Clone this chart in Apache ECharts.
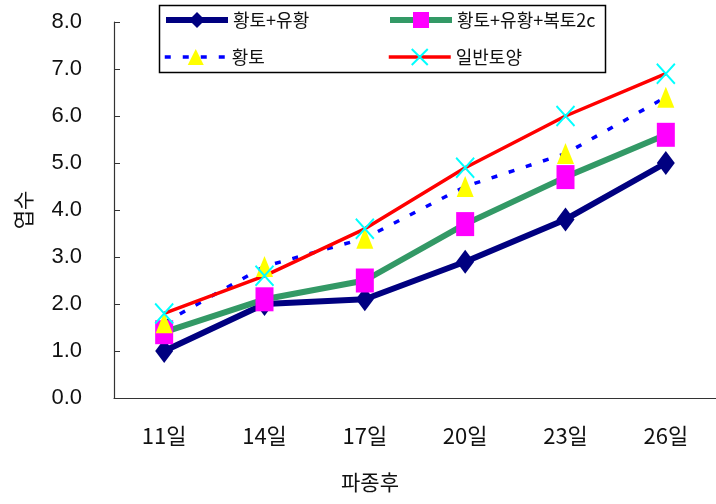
<!DOCTYPE html>
<html>
<head>
<meta charset="utf-8">
<script src="https://cdn.jsdelivr.net/npm/echarts@6/dist/echarts.min.js"></script>
<style>
  html, body { margin: 0; padding: 0; background: #fff; }
  #chart { width: 716px; height: 504px; }
</style>
</head>
<body>
<div id="chart"></div>
<script>
// Days after sowing (x categories)
const days = ['11일', '14일', '17일', '20일', '23일', '26일'];

// Leaf counts per treatment
const seriesNames = ['황토+유황', '황토+유황+복토2cm', '황토', '일반토양'];
const loessSulfur = [1.0, 2.0, 2.1, 2.9, 3.8, 5.0];
const loessSulfurCover = [1.4, 2.1, 2.5, 3.7, 4.7, 5.6];
const loess = [1.6, 2.8, 3.4, 4.5, 5.2, 6.4];
const normalSoil = [1.8, 2.6, 3.6, 4.9, 6.0, 6.9];

// Y axis ticks
const yMin = 0, yMax = 8, yStep = 1;

const FONT = "'Noto Sans CJK KR', sans-serif";
const NUM_FONT = "'Liberation Sans', 'Noto Sans CJK KR', sans-serif";

const chart = echarts.init(document.getElementById('chart'), null, { renderer: 'canvas' });

function legendAt(name, left, top, textWidth) {
  return {
    data: [name],
    left: left,
    top: top,
    padding: 0,
    itemWidth: 62,
    itemHeight: 20,
    selectedMode: false,
    lineStyle: { width: 'inherit', type: 'inherit' },
    textStyle: {
      fontFamily: FONT,
      fontSize: 18,
      color: '#111',
      lineHeight: 20,
      width: textWidth,
      overflow: 'truncate',
      ellipsis: ''
    }
  };
}

const option = {
  backgroundColor: '#fff',
  animation: false,
  graphic: [{
    type: 'rect',
    z: -1,
    shape: { x: 159.5, y: 5.5, width: 446, height: 67 },
    style: { fill: '#fff', stroke: '#000', lineWidth: 1.5 }
  }],
  legend: [
    legendAt(seriesNames[0], 163, 10, 150),
    legendAt(seriesNames[1], 387, 10, 150),
    legendAt(seriesNames[2], 163, 47, 150),
    legendAt(seriesNames[3], 387, 47, 150)
  ],
  grid: { left: 114, top: 22, width: 612, height: 376, containLabel: false },
  xAxis: {
    type: 'category',
    data: days,
    boundaryGap: true,
    name: '파종후',
    nameLocation: 'middle',
    nameGap: 74,
    nameTextStyle: {
      fontFamily: FONT, fontSize: 21, color: '#111',
      padding: [0, 90, 0, 0]
    },
    axisLine: { lineStyle: { color: '#333', width: 1.2 } },
    axisTick: { inside: true, length: 9, alignWithLabel: false, lineStyle: { color: '#333' } },
    axisLabel: { fontFamily: FONT, fontSize: 22, color: '#111', margin: 27 },
    splitLine: { show: false }
  },
  yAxis: {
    type: 'value',
    min: yMin, max: yMax, interval: yStep,
    name: '엽수',
    nameLocation: 'middle',
    nameGap: 80,
    nameTextStyle: { fontFamily: FONT, fontSize: 21, color: '#111' },
    axisLine: { show: true, lineStyle: { color: '#333', width: 1.2 } },
    axisTick: { show: true, inside: true, length: 6, lineStyle: { color: '#333' } },
    axisLabel: {
      fontFamily: NUM_FONT, fontSize: 22, color: '#111', margin: 32,
      formatter: v => v.toFixed(1)
    },
    splitLine: { show: false }
  },
  series: [
    {
      name: seriesNames[0], type: 'line', data: loessSulfur,
      showAllSymbol: true,
      symbol: 'diamond', symbolSize: [18, 24],
      lineStyle: { color: '#000080', width: 6 },
      itemStyle: { color: '#000080' }
    },
    {
      name: seriesNames[1], type: 'line', data: loessSulfurCover,
      showAllSymbol: true,
      symbol: 'rect', symbolSize: [18, 24],
      lineStyle: { color: '#339966', width: 6 },
      itemStyle: { color: '#FF00FF' }
    },
    {
      name: seriesNames[2], type: 'line', data: loess,
      showAllSymbol: true,
      symbol: 'triangle', symbolSize: [17, 21],
      lineStyle: { color: '#0000FF', width: 3.5, type: [6, 12] },
      itemStyle: { color: '#FFFF00' }
    },
    {
      name: seriesNames[3], type: 'line', data: normalSoil,
      showAllSymbol: true,
      symbol: 'path://M0,0L10,10M10,0L0,10', symbolSize: [18, 20],
      lineStyle: { color: '#FF0000', width: 3.5 },
      itemStyle: { color: 'rgba(0,0,0,0)', borderColor: '#00FFFF', borderWidth: 2 }
    }
  ]
};

chart.setOption(option);
</script>
</body>
</html>
